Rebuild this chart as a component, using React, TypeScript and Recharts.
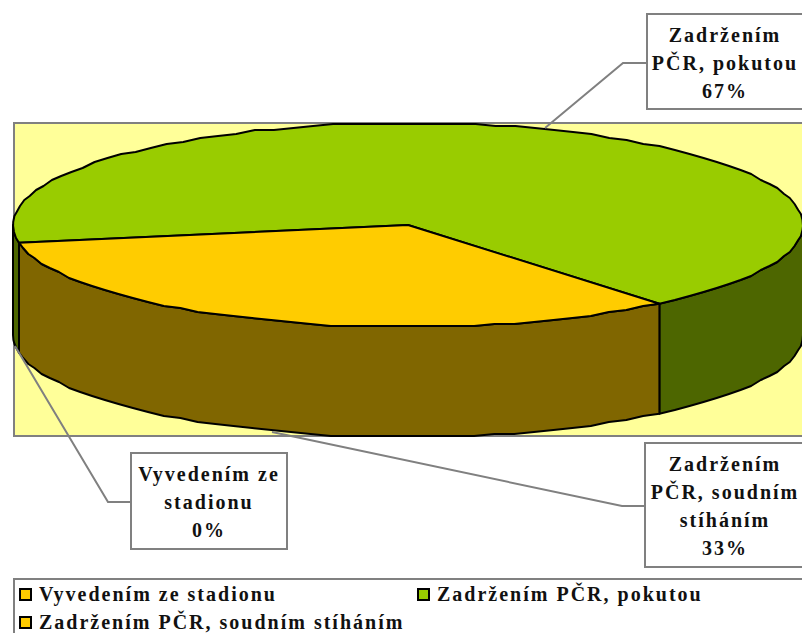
import React from "react";
import { PieChart, Pie, Legend } from "recharts";

const categories = ["Vyvedením ze stadionu", "Zadržením PČR, pokutou", "Zadržením PČR, soudním stíháním"];
const values = [0, 66.8, 33.2];
const topColors = ["#FFCC00", "#99CC00", "#FFCC00"];
const wallColors = ["#806600", "#4D6600", "#806600"];
const labelLines = [["Vyvedením ze", "stadionu"], ["Zadržením", "PČR, pokutou"], ["Zadržením", "PČR, soudním", "stíháním"]];

const W = 802;
const H = 633;
const TILT = 102 / 395;
const DEPTH = 110;
const GRAY = "#808080";
const FONT = "'Liberation Serif', 'Times New Roman', serif";
const GRID = 2;

const tableData = categories.map((name, i) => ({ name, value: values[i], fill: topColors[i], wall: wallColors[i] }));

const boxes = [
  { x: 131, y: 453, w: 156, h: 96, cx: 209, base: 481, pts: "15,346 108,502 132,502" },
  { x: 647, y: 14, w: 170, h: 95, cx: 725, base: 42, pts: "545,128 623,63 648,63" },
  { x: 645, y: 443, w: 170, h: 124, cx: 725, base: 471, pts: "272,432 622,506 646,506" },
];

const snap = (v: number) => Math.round(v / GRID) * GRID;

function arc(cx: number, cy: number, r: number, from: number, to: number, dy = 0) {
  const pts: string[] = [];
  const step = 3;
  const n = Math.max(1, Math.ceil(Math.abs(from - to) / step));
  for (let i = 0; i <= n; i++) {
    const a = ((from + ((to - from) * i) / n) * Math.PI) / 180;
    const x = cx + r * Math.cos(a);
    const y = cy - r * TILT * Math.sin(a);
    const edge = i === 0 || i === n;
    pts.push(`${x.toFixed(1)},${((edge ? y : snap(y)) + dy).toFixed(1)}`);
  }
  return pts;
}

function Slice3D(props: any) {
  const { cx, cy, outerRadius, startAngle, endAngle, fill, payload, wall } = props;
  const wallFill = wall ?? payload?.wall;
  const hi = Math.max(startAngle, endAngle);
  const lo = Math.min(startAngle, endAngle);
  if (hi - lo <= 0) return <g />;
  const walls: React.ReactNode[] = [];
  for (let k = -1; k <= 1; k++) {
    const a = Math.min(hi, k * 360);
    const b = Math.max(lo, k * 360 - 180);
    if (a > b) {
      const top = arc(cx, cy, outerRadius, a, b);
      const bottom = arc(cx, cy, outerRadius, b, a, DEPTH);
      walls.push(
        <path key={k} d={`M${top.join("L")}L${bottom.join("L")}Z`} fill={wallFill} stroke="#000" strokeWidth={2} strokeLinejoin="round" />
      );
    }
  }
  const face = arc(cx, cy, outerRadius, startAngle, endAngle);
  return (
    <g>
      {walls}
      <path d={`M${cx},${cy}L${face.join("L")}Z`} fill={fill} stroke="#000" strokeWidth={2} strokeLinejoin="round" />
    </g>
  );
}

function CalloutLabel(props: any) {
  const { index, percent } = props;
  const b = boxes[index];
  const lines = [...labelLines[index], `${Math.round(percent * 100)}%`];
  return (
    <g>
      <polyline points={b.pts} fill="none" stroke={GRAY} strokeWidth={2} />
      <rect x={b.x} y={b.y} width={b.w} height={b.h} fill="#fff" stroke={GRAY} strokeWidth={2} />
      {lines.map((t, i) => (
        <text key={i} x={b.cx} y={b.base + i * 28} textAnchor="middle" fontFamily={FONT} fontWeight="bold" fontSize={20} letterSpacing={2} fill="#111">
          {t}
        </text>
      ))}
    </g>
  );
}

function LegendBox(props: any) {
  const items = props.payload ?? [];
  const pos = [
    { left: 4, top: 8 },
    { left: 402, top: 8 },
    { left: 4, top: 36 },
  ];
  return (
    <div style={{ position: "relative", width: 800, height: 70, border: `2px solid ${GRAY}`, boxSizing: "border-box", background: "#fff" }}>
      {items.map((it: any, i: number) => (
        <div key={i} style={{ position: "absolute", left: pos[i].left, top: pos[i].top, height: 14, whiteSpace: "nowrap" }}>
          <span style={{ position: "absolute", left: 0, top: 0, width: 9, height: 9, border: "2px solid #000", background: it.color }} />
          <span style={{ position: "absolute", left: 20, top: -4, fontFamily: FONT, fontWeight: "bold", fontSize: 20, lineHeight: "20px", letterSpacing: 2, color: "#111" }}>
            {it.value}
          </span>
        </div>
      ))}
    </div>
  );
}

export default function App() {
  return (
    <div style={{ position: "absolute", left: 0, top: 0, width: W, height: H, overflow: "hidden", background: "#fff" }}>
      <div style={{ position: "absolute", left: 13, top: 122, width: 800, height: 315, background: "#FFFF99", border: `2px solid ${GRAY}`, boxSizing: "border-box" }} />
      <div style={{ position: "absolute", left: 0, top: 0 }}>
        <PieChart width={W} height={H} margin={{ top: 0, right: 0, bottom: 0, left: 0 }}>
          <Pie
            data={tableData}
            dataKey="value"
            nameKey="name"
            cx={408}
            cy={225}
            innerRadius={0}
            outerRadius={395}
            startAngle={190}
            endAngle={-170}
            paddingAngle={0}
            isAnimationActive={false}
            shape={Slice3D}
            label={CalloutLabel}
            labelLine={false}
          />
          <Legend content={LegendBox} wrapperStyle={{ position: "absolute", left: 13, top: 578, width: 800, height: 70, bottom: "auto", margin: 0 }} />
        </PieChart>
      </div>
    </div>
  );
}
